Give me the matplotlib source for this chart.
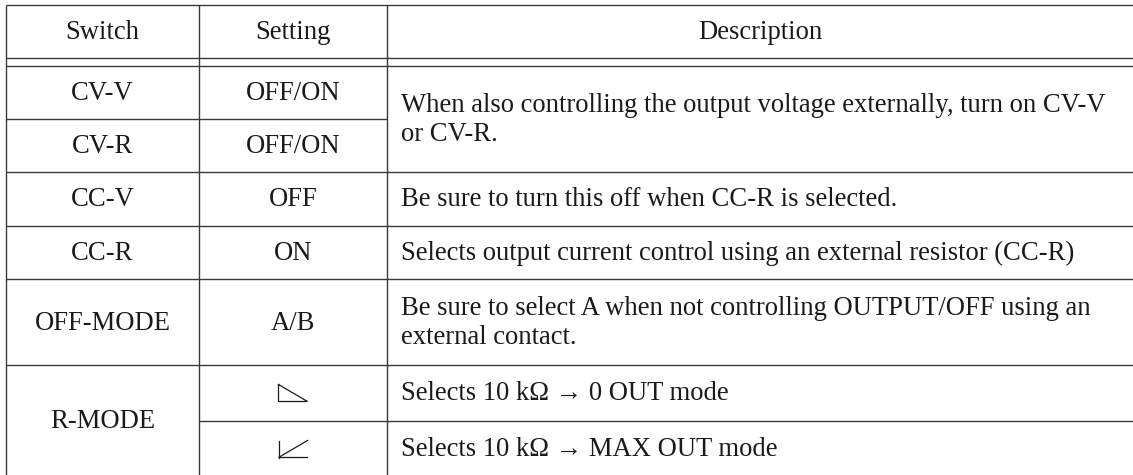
# Switch settings table (CV/CC control and mode switches)

import matplotlib
matplotlib.use('Agg')
from matplotlib import pyplot as plt

header = ['Switch', 'Setting', 'Description']

switches = ['CV-V', 'CV-R', 'CC-V', 'CC-R', 'OFF-MODE', 'R-MODE', None]
settings = ['OFF/ON', 'OFF/ON', 'OFF', 'ON', 'A/B', 'ramp_down', 'ramp_up']
descriptions = [
    'When also controlling the output voltage externally, turn on CV-V\nor CV-R.',
    None,  # merged with the row above
    'Be sure to turn this off when CC-R is selected.',
    'Selects output current control using an external resistor (CC-R)',
    'Be sure to select A when not controlling OUTPUT/OFF using an\nexternal contact.',
    'Selects 10 k\u03a9 \u2192 0 OUT mode',
    'Selects 10 k\u03a9 \u2192 MAX OUT mode',
]

# layout in pixels
W, H = 1133, 475
col_x = [6, 199, 387, 1134]
top = 5
header_h = 53
gap = 8
row_h = [53, 53, 54, 53, 86, 56, 56]
line_c = '#3a3a3a'
txt_c = '#1a1a1a'
lw = 1.0
font = 'Liberation Serif'
fs = 19.2

fig = plt.figure(figsize=(W / 100, H / 100), dpi=100)
ax = fig.add_axes([0, 0, 1, 1])
ax.set_xlim(0, W)
ax.set_ylim(H, 0)
ax.axis('off')


def hline(y, x0, x1):
    ax.plot([x0, x1], [y, y], color=line_c, lw=lw, solid_capstyle='butt')


def symbol(cx, cy, kind):
    # little ramp glyphs used for the R-MODE settings
    w, h = 29, 17
    x0, x1 = cx - w / 2, cx + w / 2
    y0, y1 = cy - h / 2, cy + h / 2
    if kind == 'ramp_down':
        xs, ys = [x0, x0, x1, x0], [y0, y1, y1, y0]
    else:
        ax.plot([x0, x0], [y0, y1], color=txt_c, lw=0.9)
        xs, ys = [x1, x0, x1], [y0, y1, y1]
    ax.plot(xs, ys, color=txt_c, lw=0.9, solid_joinstyle='miter')


# header
hline(top, col_x[0], col_x[-1])
hy = top + header_h
for i, t in enumerate(header):
    ax.text((col_x[i] + col_x[i + 1]) / 2, top + header_h / 2 + 1, t,
            ha='center', va='center', fontsize=fs, family=font, color=txt_c)
hline(hy, col_x[0], col_x[-1])
y = hy + gap
hline(y, col_x[0], col_x[-1])

# rows
row_top = []
for h in row_h:
    row_top.append(y)
    y += h
bottom = y

for i in range(len(row_h)):
    y0 = row_top[i]
    h = row_h[i]
    # switch column (R-MODE spans two rows)
    if switches[i] is not None:
        span = h + (row_h[i + 1] if i + 1 < len(switches) and switches[i + 1] is None else 0)
        ax.text((col_x[0] + col_x[1]) / 2, y0 + span / 2 + 1, switches[i],
                ha='center', va='center', fontsize=fs, family=font, color=txt_c)
    cx = (col_x[1] + col_x[2]) / 2
    if settings[i].startswith('ramp'):
        symbol(cx, y0 + h / 2, settings[i])
    else:
        ax.text(cx, y0 + h / 2 + 1, settings[i],
                ha='center', va='center', fontsize=fs, family=font, color=txt_c)
    if descriptions[i] is not None:
        span = h + (row_h[i + 1] if i + 1 < len(descriptions) and descriptions[i + 1] is None else 0)
        ax.text(col_x[2] + 14, y0 + span / 2 + 1, descriptions[i],
                ha='left', va='center', fontsize=fs, family=font, color=txt_c,
                linespacing=1.2)
    # bottom border of the row
    yb = y0 + h
    if i + 1 < len(row_h) and descriptions[i + 1] is None:
        hline(yb, col_x[0], col_x[2])
    elif i + 1 < len(row_h) and switches[i + 1] is None:
        hline(yb, col_x[1], col_x[-1])
    else:
        hline(yb, col_x[0], col_x[-1])

for x in col_x:
    ax.plot([x, x], [top, bottom], color=line_c, lw=lw, solid_capstyle='butt')

fig.savefig('out.png', dpi=100)
